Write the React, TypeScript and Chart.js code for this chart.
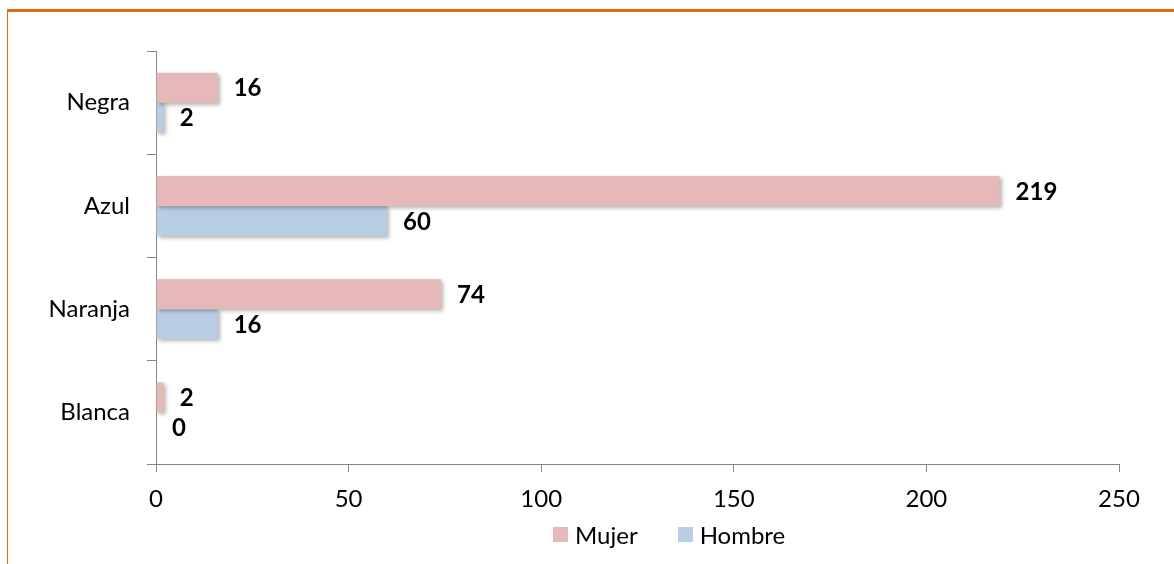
import React, { useEffect, useRef } from "react";
import { Chart, registerables } from "chart.js";

Chart.register(...registerables);

const categories = ["Negra", "Azul", "Naranja", "Blanca"];
const mujerValues = [16, 219, 74, 2];
const hombreValues = [2, 60, 16, 0];
const xTickValues = [0, 50, 100, 150, 200, 250];
const seriesNames = ["Mujer", "Hombre"];
const seriesColors = ["#E6B9B8", "#B9CDE5"];

const FONT = "Lato, 'Open Sans', sans-serif";
const AXIS_COLOR = "#868686";
const FONT_SIZE = 24;

const shadowPlugin = {
  id: "barShadow",
  beforeDatasetsDraw(chart: any) {
    const ctx = chart.ctx;
    ctx.save();
    ctx.shadowColor = "rgba(0,0,0,0.3)";
    ctx.shadowBlur = 4;
    ctx.shadowOffsetX = 2;
    ctx.shadowOffsetY = 2;
  },
  afterDatasetsDraw(chart: any) {
    chart.ctx.restore();
  },
};

const labelPlugin = {
  id: "valueLabels",
  afterDraw(chart: any) {
    const ctx = chart.ctx;
    ctx.save();
    ctx.font = `bold ${FONT_SIZE}px ${FONT}`;
    ctx.fillStyle = "#000";
    ctx.textAlign = "left";
    ctx.textBaseline = "middle";
    chart.data.datasets.forEach((ds: any, di: number) => {
      const meta = chart.getDatasetMeta(di);
      meta.data.forEach((el: any, i: number) => {
        ctx.fillText(String(ds.data[i]), el.x + 16, el.y + 1);
      });
    });
    ctx.restore();
  },
};

export default function App() {
  const ref = useRef<HTMLCanvasElement>(null);
  useEffect(() => {
    if (!ref.current) return;
    const chart = new Chart(ref.current, {
      type: "bar",
      data: {
        labels: categories,
        datasets: [
          {
            label: seriesNames[0],
            data: mujerValues,
            backgroundColor: seriesColors[0],
            categoryPercentage: 0.58,
            barPercentage: 1,
          },
          {
            label: seriesNames[1],
            data: hombreValues,
            backgroundColor: seriesColors[1],
            categoryPercentage: 0.58,
            barPercentage: 1,
          },
        ],
      },
      options: {
        indexAxis: "y",
        animation: false,
        responsive: false,
        maintainAspectRatio: false,
        layout: { padding: { top: 51, right: 55, left: 0, bottom: 0 } },
        plugins: { legend: { display: false }, tooltip: { enabled: false } },
        scales: {
          x: {
            type: "linear",
            min: 0,
            max: 250,
            afterBuildTicks(scale: any) {
              scale.ticks = xTickValues.map((v) => ({ value: v }));
            },
            afterFit(scale: any) {
              scale.height = 100;
            },
            grid: {
              drawOnChartArea: false,
              drawTicks: true,
              tickLength: 8,
              color: AXIS_COLOR,
            },
            border: { color: AXIS_COLOR, width: 1 },
            ticks: {
              font: { family: FONT, size: FONT_SIZE },
              color: "#000",
              padding: 13,
              maxRotation: 0,
            },
          },
          y: {
            type: "category",
            afterFit(scale: any) {
              scale.width = 156;
            },
            grid: {
              offset: true,
              drawOnChartArea: false,
              drawTicks: true,
              tickLength: 9,
              color: AXIS_COLOR,
            },
            border: { color: AXIS_COLOR, width: 1 },
            ticks: {
              font: { family: FONT, size: FONT_SIZE },
              color: "#000",
              padding: 17,
            },
          },
        },
      },
      plugins: [shadowPlugin, labelPlugin],
    } as any);
    return () => chart.destroy();
  }, []);

  return (
    <div
      style={{
        position: "fixed",
        left: 0,
        top: 0,
        width: 1174,
        height: 564,
        background: "#fff",
        overflow: "hidden",
      }}
    >
      <div
        style={{
          position: "absolute",
          left: 7,
          top: 9,
          width: 1200,
          height: 600,
          borderTop: "3px solid #E36C09",
          borderLeft: "1px solid #E36C09",
        }}
      />
      <canvas
        ref={ref}
        width={1174}
        height={564}
        style={{ position: "absolute", left: 0, top: 0, width: 1174, height: 564 }}
      />
      <div
        style={{
          position: "absolute",
          left: 553,
          top: 522,
          height: 25,
          display: "flex",
          alignItems: "center",
          fontFamily: FONT,
          fontSize: FONT_SIZE,
          color: "#000",
        }}
      >
        {seriesNames.map((name, i) => (
          <div key={name} style={{ display: "flex", alignItems: "center", marginRight: i === 0 ? 40 : 0 }}>
            <span
              style={{
                display: "inline-block",
                width: 15,
                height: 15,
                background: seriesColors[i],
                marginRight: 7,
              }}
            />
            <span style={{ lineHeight: "25px" }}>{name}</span>
          </div>
        ))}
      </div>
    </div>
  );
}
